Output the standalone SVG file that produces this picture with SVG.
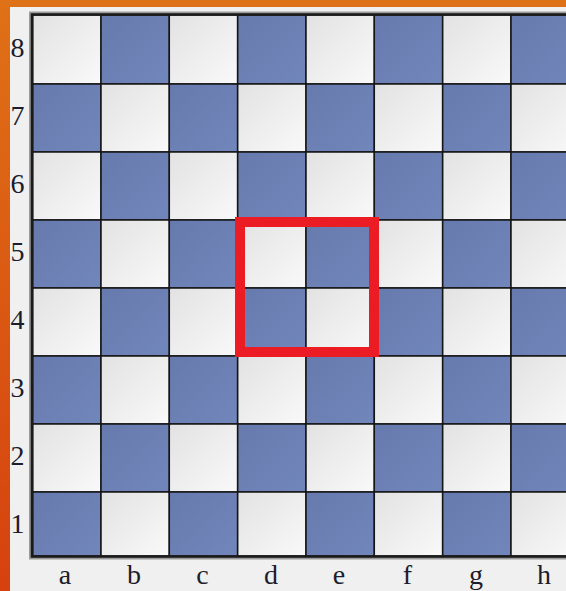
<svg xmlns="http://www.w3.org/2000/svg" width="566" height="591" viewBox="0 0 566 591">
<defs>
<linearGradient id="lt" x1="0" y1="0" x2="1" y2="1">
<stop offset="0" stop-color="#e2e2e2"/>
<stop offset="1" stop-color="#f9f9f9"/>
</linearGradient>
<linearGradient id="dk" x1="0" y1="0" x2="1" y2="1">
<stop offset="0" stop-color="#677aae"/>
<stop offset="1" stop-color="#7186bb"/>
</linearGradient>
<linearGradient id="side" x1="0" y1="0" x2="0" y2="1">
<stop offset="0" stop-color="#df7117"/>
<stop offset="1" stop-color="#d6410f"/>
</linearGradient>
<style>
.l{fill:url(#lt);stroke:#151515;stroke-width:1.5}
.d{fill:url(#dk);stroke:#151515;stroke-width:1.5}
.t{font-family:"Liberation Serif","Times New Roman",serif;font-size:28px;fill:#1c1c2c;text-anchor:middle}
</style>
</defs>
<rect x="0" y="0" width="566" height="591" fill="#f0f0f0"/>
<rect x="0" y="0" width="566" height="7" fill="#de7118"/>
<rect x="0" y="0" width="10" height="591" fill="url(#side)"/>
<g id="board">
<rect x="31.5" y="14" width="560" height="543" fill="none" stroke="#9a9a9a" stroke-width="5"/>
<g id="rank8">
<rect class="l" x="32.7" y="15" width="68.3" height="69"/>
<rect class="d" x="101" y="15" width="68.3" height="69"/>
<rect class="l" x="169.3" y="15" width="68.3" height="69"/>
<rect class="d" x="237.7" y="15" width="68.3" height="69"/>
<rect class="l" x="306" y="15" width="68.3" height="69"/>
<rect class="d" x="374.3" y="15" width="68.3" height="69"/>
<rect class="l" x="442.7" y="15" width="68.3" height="69"/>
<rect class="d" x="511" y="15" width="68.3" height="69"/>
</g>
<g id="rank7">
<rect class="d" x="32.7" y="84" width="68.3" height="68"/>
<rect class="l" x="101" y="84" width="68.3" height="68"/>
<rect class="d" x="169.3" y="84" width="68.3" height="68"/>
<rect class="l" x="237.7" y="84" width="68.3" height="68"/>
<rect class="d" x="306" y="84" width="68.3" height="68"/>
<rect class="l" x="374.3" y="84" width="68.3" height="68"/>
<rect class="d" x="442.7" y="84" width="68.3" height="68"/>
<rect class="l" x="511" y="84" width="68.3" height="68"/>
</g>
<g id="rank6">
<rect class="l" x="32.7" y="152" width="68.3" height="68"/>
<rect class="d" x="101" y="152" width="68.3" height="68"/>
<rect class="l" x="169.3" y="152" width="68.3" height="68"/>
<rect class="d" x="237.7" y="152" width="68.3" height="68"/>
<rect class="l" x="306" y="152" width="68.3" height="68"/>
<rect class="d" x="374.3" y="152" width="68.3" height="68"/>
<rect class="l" x="442.7" y="152" width="68.3" height="68"/>
<rect class="d" x="511" y="152" width="68.3" height="68"/>
</g>
<g id="rank5">
<rect class="d" x="32.7" y="220" width="68.3" height="68"/>
<rect class="l" x="101" y="220" width="68.3" height="68"/>
<rect class="d" x="169.3" y="220" width="68.3" height="68"/>
<rect class="l" x="237.7" y="220" width="68.3" height="68"/>
<rect class="d" x="306" y="220" width="68.3" height="68"/>
<rect class="l" x="374.3" y="220" width="68.3" height="68"/>
<rect class="d" x="442.7" y="220" width="68.3" height="68"/>
<rect class="l" x="511" y="220" width="68.3" height="68"/>
</g>
<g id="rank4">
<rect class="l" x="32.7" y="288" width="68.3" height="68"/>
<rect class="d" x="101" y="288" width="68.3" height="68"/>
<rect class="l" x="169.3" y="288" width="68.3" height="68"/>
<rect class="d" x="237.7" y="288" width="68.3" height="68"/>
<rect class="l" x="306" y="288" width="68.3" height="68"/>
<rect class="d" x="374.3" y="288" width="68.3" height="68"/>
<rect class="l" x="442.7" y="288" width="68.3" height="68"/>
<rect class="d" x="511" y="288" width="68.3" height="68"/>
</g>
<g id="rank3">
<rect class="d" x="32.7" y="356" width="68.3" height="68"/>
<rect class="l" x="101" y="356" width="68.3" height="68"/>
<rect class="d" x="169.3" y="356" width="68.3" height="68"/>
<rect class="l" x="237.7" y="356" width="68.3" height="68"/>
<rect class="d" x="306" y="356" width="68.3" height="68"/>
<rect class="l" x="374.3" y="356" width="68.3" height="68"/>
<rect class="d" x="442.7" y="356" width="68.3" height="68"/>
<rect class="l" x="511" y="356" width="68.3" height="68"/>
</g>
<g id="rank2">
<rect class="l" x="32.7" y="424" width="68.3" height="68"/>
<rect class="d" x="101" y="424" width="68.3" height="68"/>
<rect class="l" x="169.3" y="424" width="68.3" height="68"/>
<rect class="d" x="237.7" y="424" width="68.3" height="68"/>
<rect class="l" x="306" y="424" width="68.3" height="68"/>
<rect class="d" x="374.3" y="424" width="68.3" height="68"/>
<rect class="l" x="442.7" y="424" width="68.3" height="68"/>
<rect class="d" x="511" y="424" width="68.3" height="68"/>
</g>
<g id="rank1">
<rect class="d" x="32.7" y="492" width="68.3" height="64"/>
<rect class="l" x="101" y="492" width="68.3" height="64"/>
<rect class="d" x="169.3" y="492" width="68.3" height="64"/>
<rect class="l" x="237.7" y="492" width="68.3" height="64"/>
<rect class="d" x="306" y="492" width="68.3" height="64"/>
<rect class="l" x="374.3" y="492" width="68.3" height="64"/>
<rect class="d" x="442.7" y="492" width="68.3" height="64"/>
<rect class="l" x="511" y="492" width="68.3" height="64"/>
</g>
<rect x="32" y="14.5" width="560" height="542" fill="none" stroke="#1a1a1a" stroke-width="2.5"/>
</g>
<g id="highlight">
<rect x="240" y="222" width="134" height="130" fill="none" stroke="#ec1c24" stroke-width="10"/>
</g>
<g id="rank-labels">
<text class="t" x="17.5" y="57">8</text>
<text class="t" x="17.5" y="125">7</text>
<text class="t" x="17.5" y="193">6</text>
<text class="t" x="17.5" y="261">5</text>
<text class="t" x="17.5" y="329">4</text>
<text class="t" x="17.5" y="397">3</text>
<text class="t" x="17.5" y="465">2</text>
<text class="t" x="17.5" y="533">1</text>
</g>
<g id="file-labels">
<text class="t" x="65" y="584">a</text>
<text class="t" x="134" y="584">b</text>
<text class="t" x="202.5" y="584">c</text>
<text class="t" x="271" y="584">d</text>
<text class="t" x="339" y="584">e</text>
<text class="t" x="407.5" y="584">f</text>
<text class="t" x="476" y="584">g</text>
<text class="t" x="544" y="584">h</text>
</g>
</svg>
